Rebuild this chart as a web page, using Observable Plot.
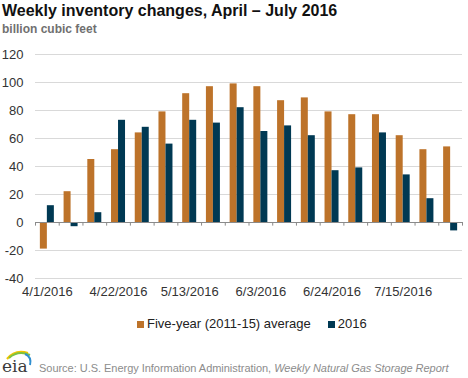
<!DOCTYPE html>
<html>
<head>
<meta charset="utf-8">
<script src="https://cdn.jsdelivr.net/npm/d3@7"></script>
<script src="https://cdn.jsdelivr.net/npm/@observablehq/plot@0.6"></script>
<style>
  html, body { margin: 0; padding: 0; background: #fff; }
  #wrap { position: relative; width: 468px; height: 378px; overflow: hidden; font-family: "Liberation Sans", Arial, sans-serif; }
  #title { position: absolute; left: 2px; top: 2px; font-size: 16px; line-height: 18px; font-weight: bold; color: #111; white-space: nowrap; }
  #subtitle { position: absolute; left: 2px; top: 22px; font-size: 12px; line-height: 14px; font-weight: bold; color: #707070; white-space: nowrap; }
  #chart { position: absolute; left: 0; top: 44px; }
  #legend { position: absolute; left: 137px; top: 316px; font-size: 13px; line-height: 16px; color: #222; white-space: nowrap; display: flex; align-items: center; }
  #legend .sw { display: inline-block; width: 7px; height: 7px; margin-right: 3px; }
  #legend .item { display: flex; align-items: center; margin-right: 17px; }
  #source { position: absolute; left: 39px; top: 362px; font-size: 11px; line-height: 13px; color: #8c8c8c; white-space: nowrap; letter-spacing: -0.03px; }
  #logo { position: absolute; left: 1px; top: 347px; }
</style>
</head>
<body>
<div id="wrap">
  <div id="title">Weekly inventory changes, April – July 2016</div>
  <div id="subtitle">billion cubic feet</div>
  <div id="chart"></div>
  <div id="legend"></div>
  <svg id="logo" width="34" height="28" viewBox="0 0 34 28">
    <path d="M6 12 Q14 2 27 6" fill="none" stroke="#f2c500" stroke-width="2.2"/>
    <path d="M8 11 Q17 3 29 8" fill="none" stroke="#7dc242" stroke-width="2"/>
    <path d="M24 7 Q31 10 29 18" fill="none" stroke="#2f8fd0" stroke-width="2"/>
    <text x="1" y="25" font-family="'DejaVu Serif', 'Liberation Serif', serif" font-size="17" fill="#3a3a3a">eia</text>
  </svg>
  <div id="source">Source: U.S. Energy Information Administration, <i>Weekly Natural Gas Storage Report</i></div>
</div>
<script>
// ---- data ----
const weeks = ["4/1/2016","4/8/2016","4/15/2016","4/22/2016","4/29/2016","5/6/2016","5/13/2016","5/20/2016","5/27/2016",
               "6/3/2016","6/10/2016","6/17/2016","6/24/2016","7/1/2016","7/8/2016","7/15/2016","7/22/2016","7/29/2016"];
const seriesNames = ["Five-year (2011-15) average", "2016"];
const fiveYearAvg = [-19, 22, 45, 52, 64, 79, 92, 97, 99, 97, 87, 89, 79, 77, 77, 62, 52, 54];
const year2016   = [12, -3, 7, 73, 68, 56, 73, 71, 82, 65, 69, 62, 37, 39, 64, 34, 17, -6];
const yTicks = [-40, -20, 0, 20, 40, 60, 80, 100, 120];
const labelEvery = 3;
const colors = ["#bd732a", "#003953"];

// ---- table ----
const rows = [];
weeks.forEach((w, i) => {
  rows.push({i, week: w, series: seriesNames[0], k: 0, value: fiveYearAvg[i]});
  rows.push({i, week: w, series: seriesNames[1], k: 1, value: year2016[i]});
});
const groupPad = 0.205; // outer padding of each week's group (fraction of step)
const half = (1 - 2 * groupPad) / 2;
const boundaries = d3.range(weeks.length + 1);
const labelIdx = weeks.map((_, i) => i).filter(i => i % labelEvery === 0);

const chart = Plot.plot({
  width: 468,
  height: 260,
  marginTop: 10,
  marginBottom: 26,
  marginLeft: 35,
  marginRight: 6,
  style: {fontFamily: "'Liberation Sans', Arial, sans-serif", fontSize: "13px", color: "#333", background: "white"},
  x: {type: "linear", domain: [0, weeks.length], axis: null, label: null},
  y: {domain: [-40, 120], axis: null, label: null},
  color: {domain: seriesNames, range: colors},
  marks: [
    Plot.gridY(yTicks, {stroke: "#d9d9d9", strokeOpacity: 1}),
    Plot.axisY(yTicks, {tickSize: 0, tickPadding: 12, fontSize: 13, label: null, tickFormat: d => String(d)}),
    Plot.rectY(rows, {
      x1: d => d.i + groupPad + d.k * half,
      x2: d => d.i + groupPad + (d.k + 1) * half,
      y1: 0, y2: "value", fill: "series"
    }),
    Plot.ruleY([0], {stroke: "#8a8a8a", strokeWidth: 1.2}),
    Plot.ruleX(boundaries, {x: d => d, y1: 0, y2: -2.6, stroke: "#8a8a8a"}),
    Plot.axisX(labelIdx.map(i => i + 0.5), {tickSize: 0, tickPadding: 8, fontSize: 13, label: null, tickFormat: t => weeks[Math.floor(t)]})
  ]
});
document.getElementById("chart").appendChild(chart);

// ---- legend ----
const leg = document.getElementById("legend");
seriesNames.forEach((s, j) => {
  const item = document.createElement("span");
  item.className = "item";
  const sw = document.createElement("span");
  sw.className = "sw";
  sw.style.background = colors[j];
  item.appendChild(sw);
  item.appendChild(document.createTextNode(s));
  leg.appendChild(item);
});
</script>
</body>
</html>
